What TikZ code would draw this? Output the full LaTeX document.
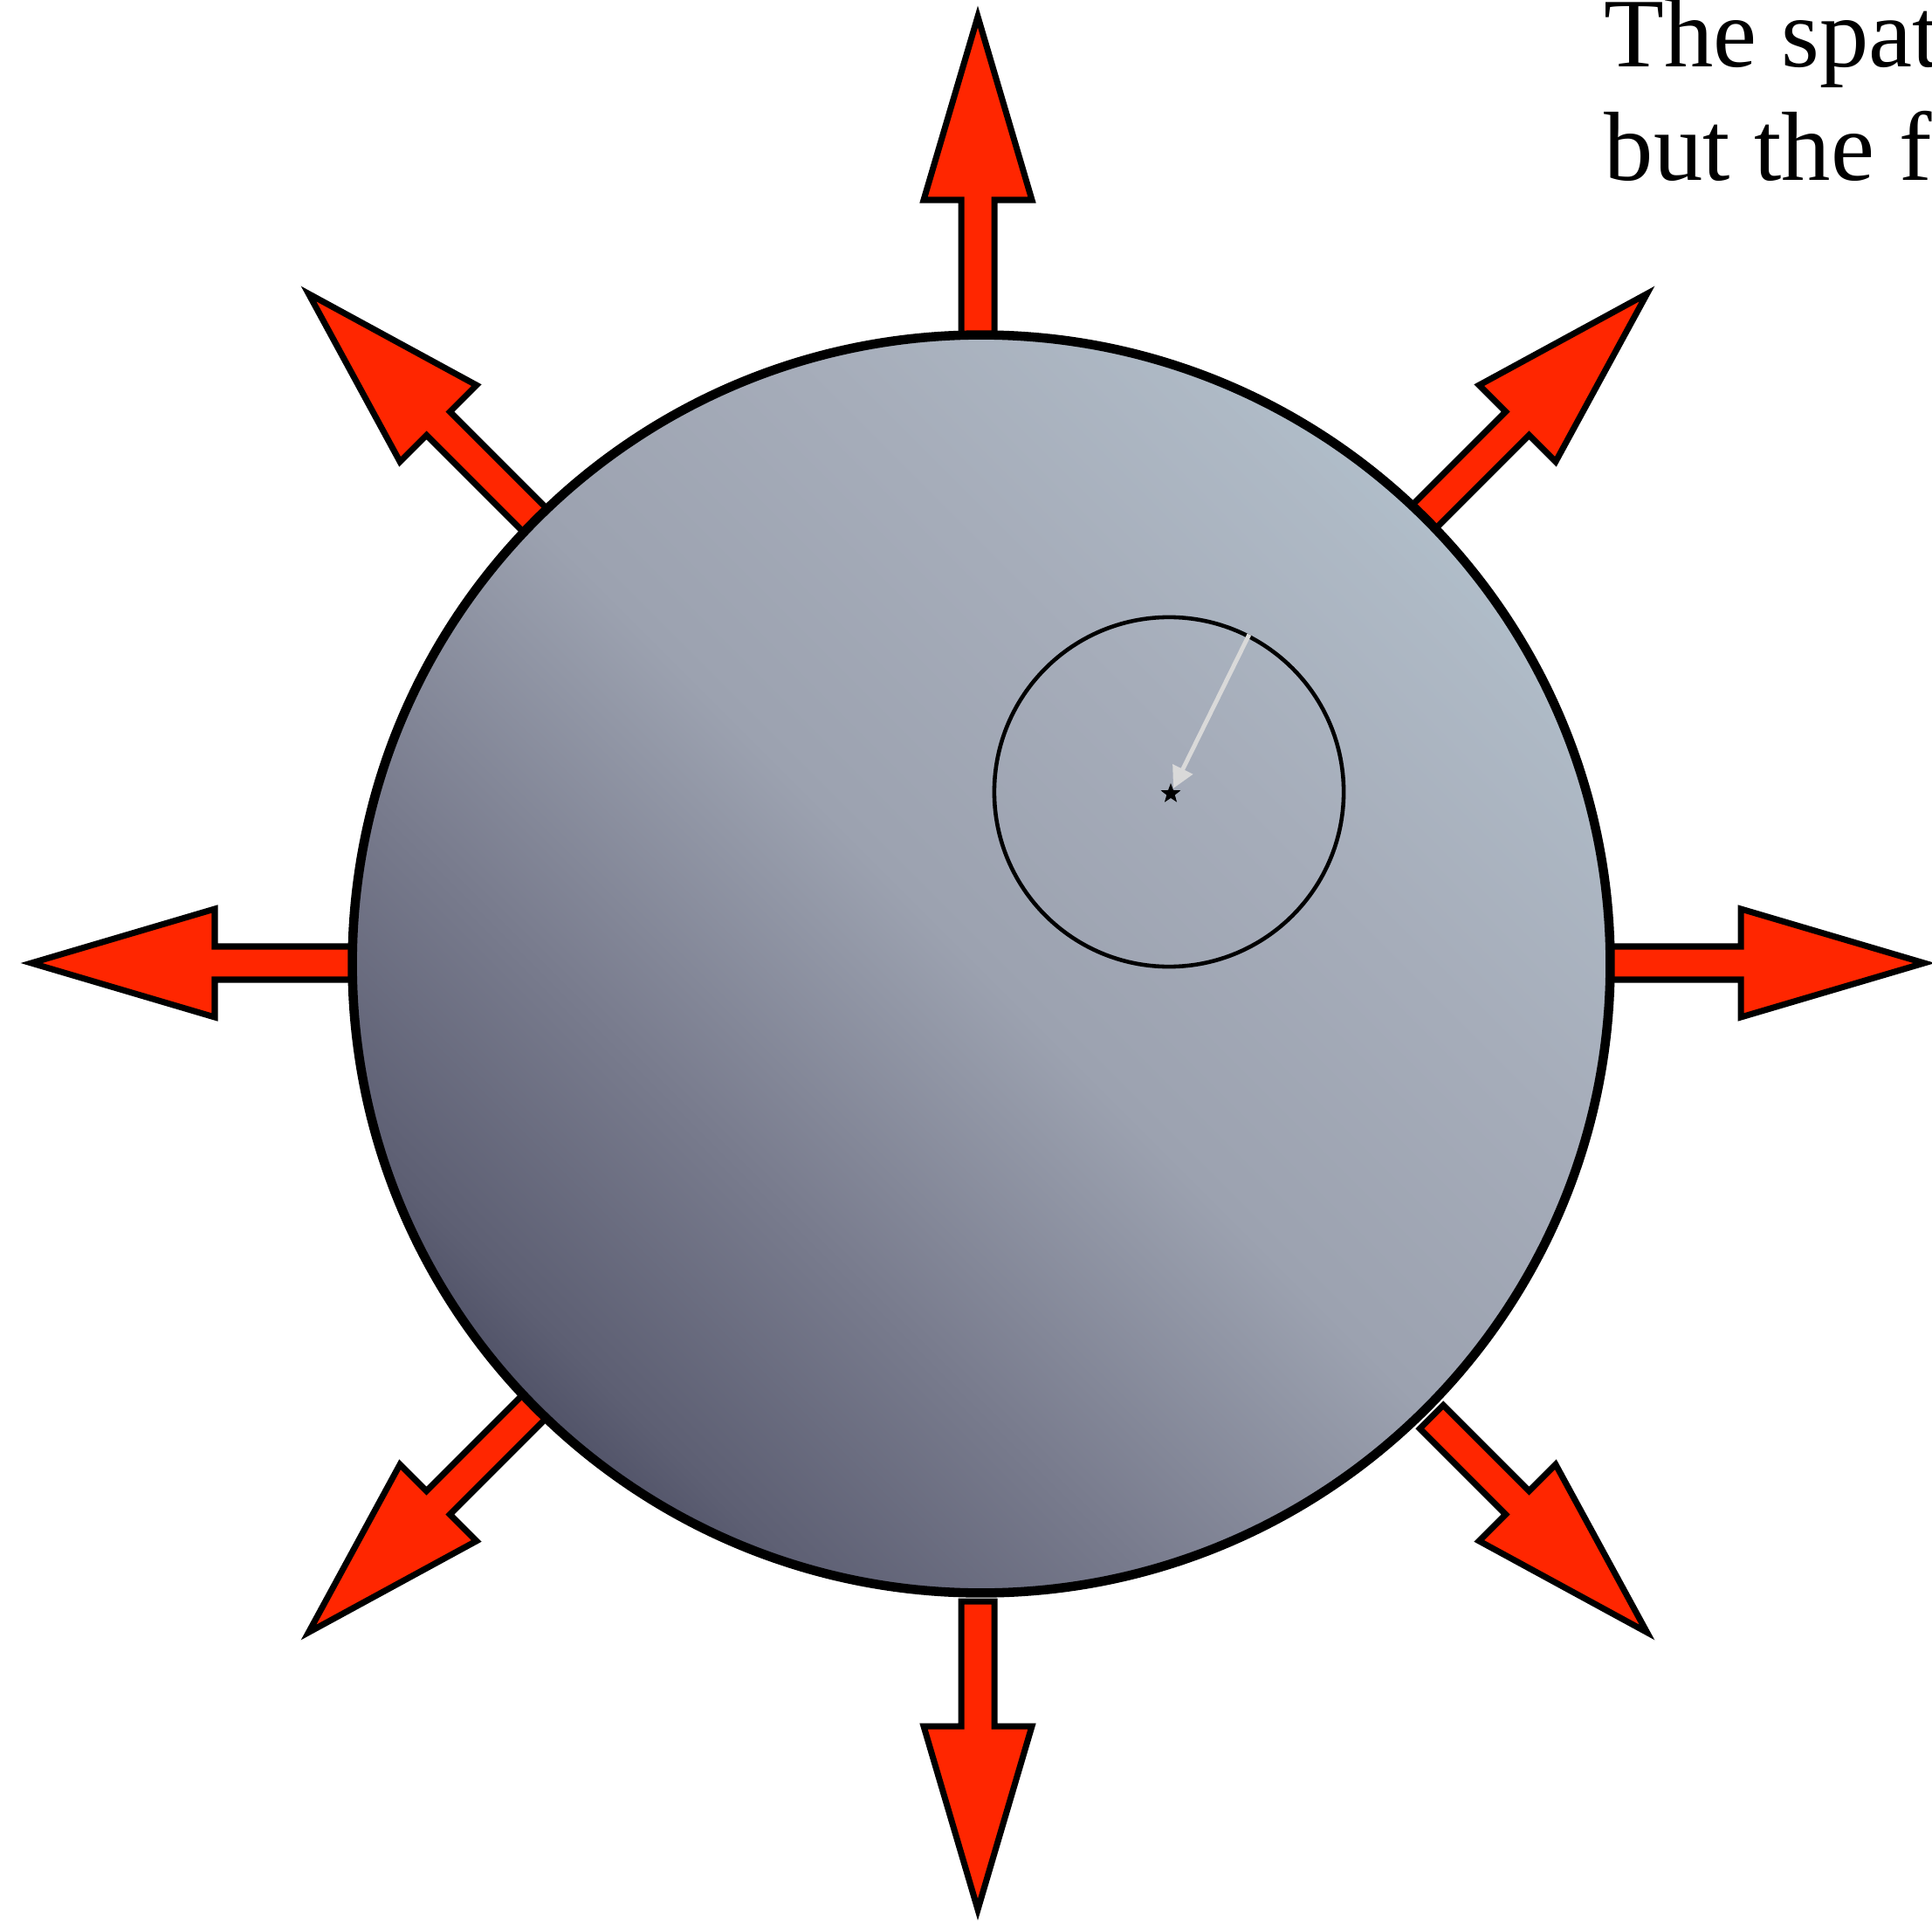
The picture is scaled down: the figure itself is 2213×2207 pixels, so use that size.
\documentclass[tikz,border=0pt]{standalone}
\usepackage{fontspec}
\setmainfont{Liberation Serif}
\usetikzlibrary{arrows.meta,shapes.geometric}
\definecolor{rayred}{HTML}{FF2600}
\definecolor{tone0}{HTML}{525469}
\definecolor{tone1}{HTML}{5D5F73}
\definecolor{tone2}{HTML}{787B8D}
\definecolor{tone3}{HTML}{9CA2B0}
\definecolor{tone4}{HTML}{A6ADBA}
\definecolor{tone5}{HTML}{AEB9C5}
\definecolor{tone6}{HTML}{B0BDC9}
\pgfdeclareverticalshading{balltone}{100bp}{color(0bp)=(tone0); color(25bp)=(tone0);
  color(27.5bp)=(tone1); color(37.5bp)=(tone2); color(50bp)=(tone3); color(62.5bp)=(tone4);
  color(72.5bp)=(tone5); color(75bp)=(tone6); color(100bp)=(tone6)}

\begin{document}
\begin{tikzpicture}[x=0.01cm, y=-0.01cm, every node/.style={font=\fontsize{32}{37}\selectfont},
  ray/.style={draw, line width=2pt, fill=rayred},
  ball/.style={circle, draw, line width=3pt, inner sep=0, minimum size=14.4cm, shading=balltone, shading angle=-45},
  spot/.style={circle, draw, line width=1.3pt, inner sep=0, minimum size=4cm},
  pull/.style={-{Triangle[length=7pt,width=7pt]}, line width=1.4pt, draw=black!15}]
  \useasboundingbox (0,0) rectangle (2213,2207);
  \clip (0,0) rectangle (2213,2207);
  \coordinate (hub) at (1120,1103);
  % outward arrows
  \foreach \a/\r in {0/723,45/720,90/715,135/715,180/715,225/715,270/731,315/735}
    \draw[ray, shift={(hub)}, rotate=\a] (\r,-19) -- (874,-19) -- (874,-62) -- (1084,0)
      -- (874,62) -- (874,19) -- (\r,19) -- cycle;
  \node[ball] (ball) at (1124,1104) {};
  \node[spot] (spot) at (1339,907) {};
  \node[star, star points=5, star point ratio=2.4, fill=black, inner sep=0, minimum size=0.24cm] (mark) at (1341,909) {};
  \draw[pull] (spot.63) -- (mark);
  \node[anchor=base west, align=left, inner sep=0] (note) at (1837,207) {The spat\\but the fi};
\end{tikzpicture}
\end{document}
